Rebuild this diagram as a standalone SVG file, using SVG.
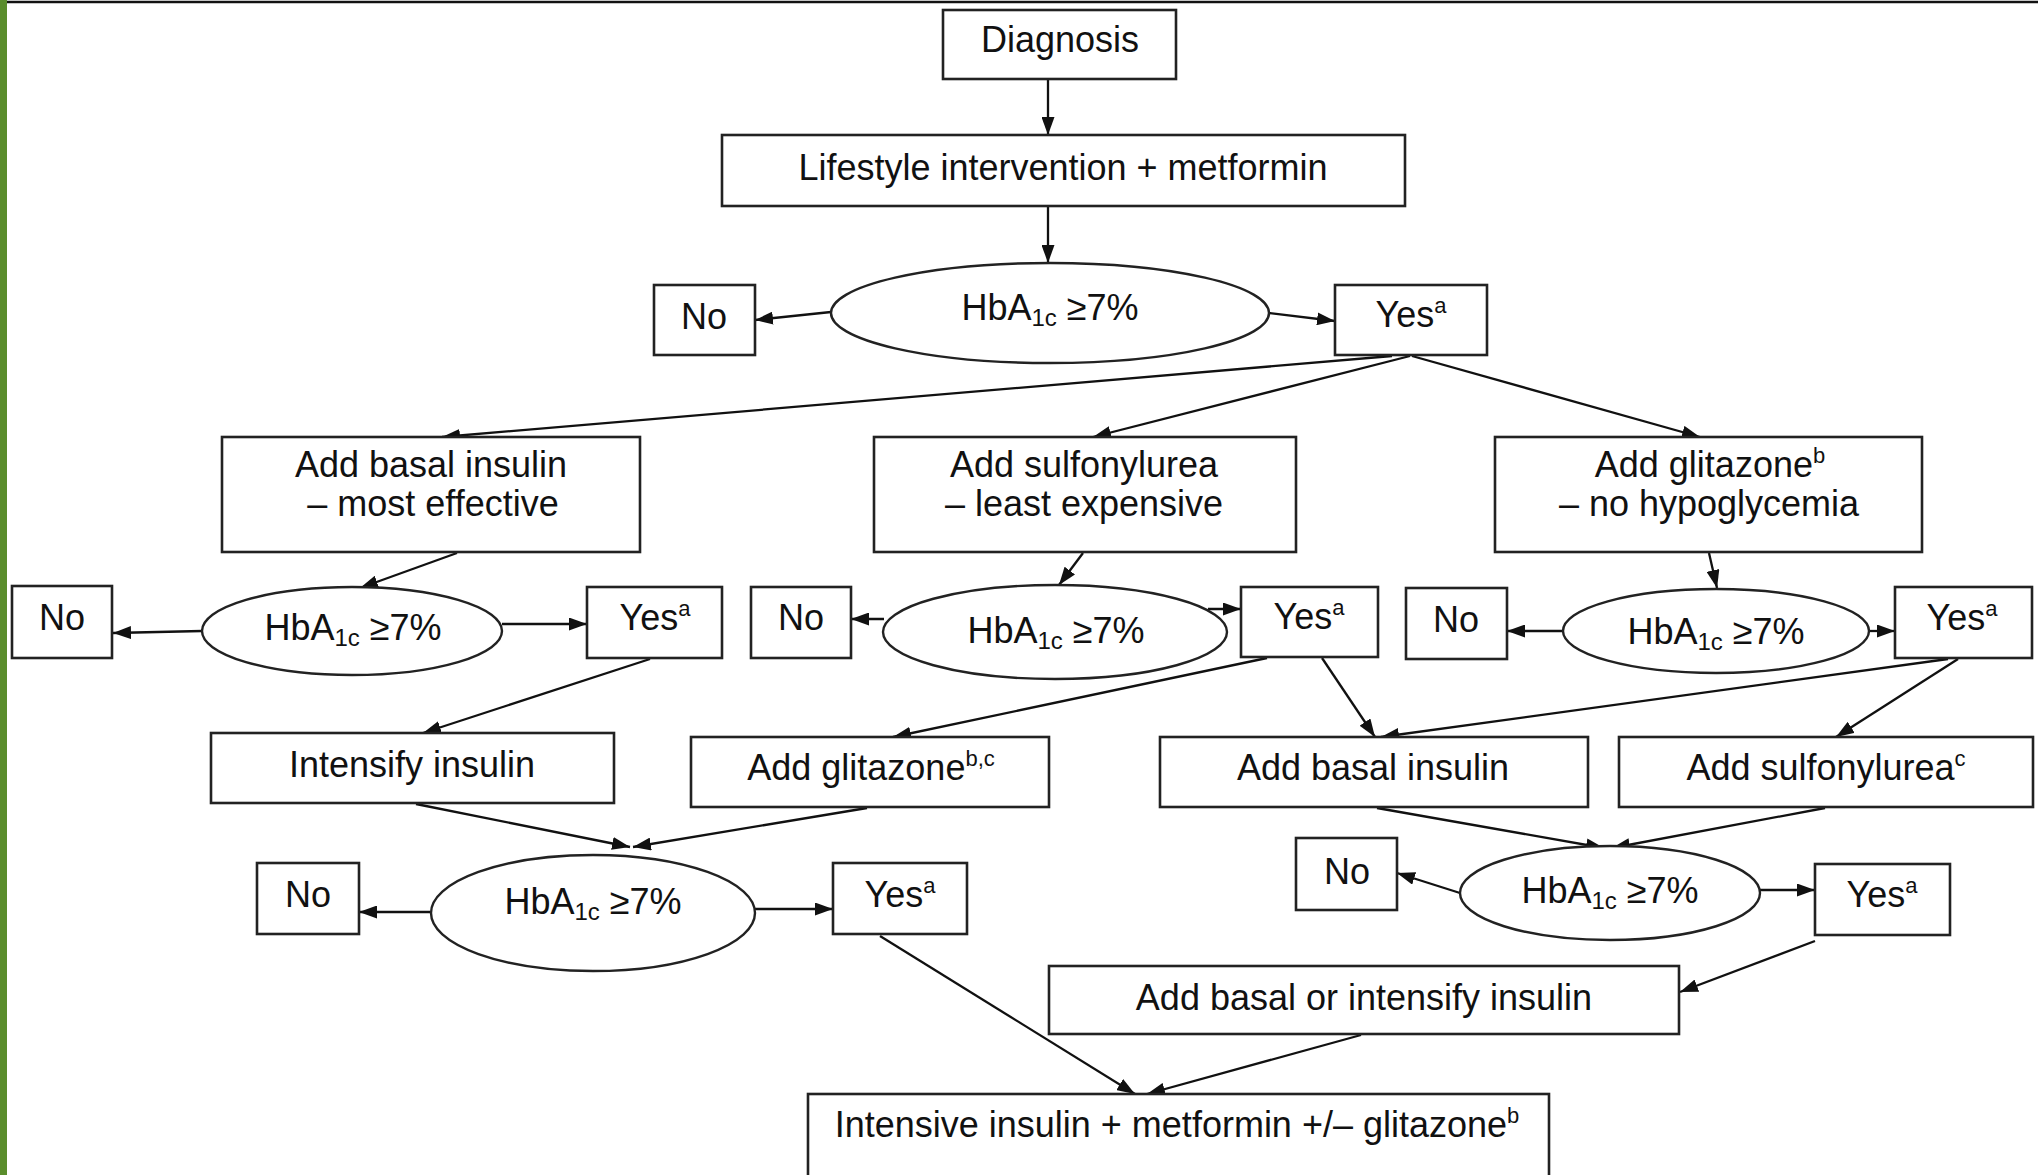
<svg xmlns="http://www.w3.org/2000/svg" width="2038" height="1175" viewBox="0 0 2038 1175">
<defs>
<marker id="ah" viewBox="0 0 18 13" refX="18" refY="6.5" markerWidth="18" markerHeight="13" markerUnits="userSpaceOnUse" orient="auto">
<path d="M0,0 L18,6.5 L0,13 z" fill="#111"/>
</marker>
<style>
.box{fill:#fff;stroke:#222;stroke-width:2.6}
.ell{fill:#fff;stroke:#222;stroke-width:2.4}
.t{font-family:"Liberation Sans",Arial,Helvetica,sans-serif;font-size:36px;fill:#111;text-anchor:middle}
.sup{font-size:22px}
.sub{font-size:24px}
.c line{stroke:#111;stroke-width:2.3;marker-end:url(#ah)}
</style>
</defs>
<rect x="0" y="0" width="2038" height="1175" fill="#fff"/>
<rect x="0" y="0" width="7" height="1175" fill="#5a8d2c"/>
<line x1="7" y1="2" x2="2038" y2="2" stroke="#111" stroke-width="2.5"/>

<g class="c" id="connectors">
<line x1="1048" y1="80" x2="1048" y2="135"/>
<line x1="1048" y1="207" x2="1048" y2="263"/>
<line x1="831" y1="312" x2="755" y2="320"/>
<line x1="1269" y1="313" x2="1335" y2="321"/>
<line x1="1392" y1="356" x2="442" y2="437"/>
<line x1="1410" y1="356" x2="1093" y2="437"/>
<line x1="1412" y1="356" x2="1700" y2="437"/>
<line x1="457" y1="553" x2="360" y2="588"/>
<line x1="202" y1="631" x2="113" y2="633"/>
<line x1="502" y1="624" x2="587" y2="624"/>
<line x1="1083" y1="553" x2="1059" y2="585"/>
<line x1="884" y1="619" x2="851" y2="619"/>
<line x1="1208" y1="609" x2="1241" y2="609"/>
<line x1="1709" y1="553" x2="1717" y2="588"/>
<line x1="1562" y1="631" x2="1507" y2="631"/>
<line x1="1868" y1="631" x2="1895" y2="631"/>
<line x1="650" y1="659" x2="423" y2="733"/>
<line x1="1267" y1="658" x2="893" y2="737"/>
<line x1="1322" y1="658" x2="1375" y2="737"/>
<line x1="1948" y1="659" x2="1381" y2="737"/>
<line x1="1958" y1="659" x2="1836" y2="737"/>
<line x1="416" y1="804" x2="630" y2="847"/>
<line x1="867" y1="808" x2="633" y2="847"/>
<line x1="430" y1="912" x2="359" y2="912"/>
<line x1="755" y1="909" x2="833" y2="909"/>
<line x1="880" y1="936" x2="1135" y2="1094"/>
<line x1="1377" y1="808" x2="1604" y2="848"/>
<line x1="1825" y1="808" x2="1612" y2="848"/>
<line x1="1460" y1="893" x2="1397" y2="873"/>
<line x1="1760" y1="890" x2="1815" y2="890"/>
<line x1="1815" y1="941" x2="1680" y2="992"/>
<line x1="1361" y1="1035" x2="1147" y2="1094"/>
</g>

<g id="diagnosis"><rect class="box" x="943" y="10" width="233" height="69"/><text class="t" x="1060" y="52">Diagnosis</text></g>
<g id="lifestyle"><rect class="box" x="722" y="135" width="683" height="71"/><text class="t" x="1063" y="180">Lifestyle intervention + metformin</text></g>
<g id="hba-1"><ellipse class="ell" cx="1050" cy="313" rx="219" ry="50"/><text class="t" x="1050" y="320">HbA<tspan class="sub" dy="6">1c</tspan><tspan dy="-6"> ≥7%</tspan></text></g>
<g id="no-1"><rect class="box" x="654" y="285" width="101" height="70"/><text class="t" x="704" y="329">No</text></g>
<g id="yes-1"><rect class="box" x="1335" y="285" width="152" height="70"/><text class="t" x="1411" y="327">Yes<tspan class="sup" dy="-14">a</tspan></text></g>

<g id="basal-1"><rect class="box" x="222" y="437" width="418" height="115"/><text class="t" x="431" y="477">Add basal insulin</text><text class="t" x="433" y="516">– most effective</text></g>
<g id="sulf-1"><rect class="box" x="874" y="437" width="422" height="115"/><text class="t" x="1084" y="477">Add sulfonylurea</text><text class="t" x="1084" y="516">– least expensive</text></g>
<g id="glit-1"><rect class="box" x="1495" y="437" width="427" height="115"/><text class="t" x="1710" y="477">Add glitazone<tspan class="sup" dy="-14">b</tspan></text><text class="t" x="1709" y="516">– no hypoglycemia</text></g>

<g id="no-2a"><rect class="box" x="12" y="586" width="100" height="72"/><text class="t" x="62" y="630">No</text></g>
<g id="hba-2a"><ellipse class="ell" cx="352" cy="631" rx="150" ry="44"/><text class="t" x="353" y="640">HbA<tspan class="sub" dy="6">1c</tspan><tspan dy="-6"> ≥7%</tspan></text></g>
<g id="yes-2a"><rect class="box" x="587" y="587" width="135" height="71"/><text class="t" x="655" y="630">Yes<tspan class="sup" dy="-14">a</tspan></text></g>
<g id="no-2b"><rect class="box" x="751" y="587" width="100" height="71"/><text class="t" x="801" y="630">No</text></g>
<g id="hba-2b"><ellipse class="ell" cx="1055" cy="632" rx="172" ry="47"/><text class="t" x="1056" y="643">HbA<tspan class="sub" dy="6">1c</tspan><tspan dy="-6"> ≥7%</tspan></text></g>
<g id="yes-2b"><rect class="box" x="1241" y="587" width="137" height="70"/><text class="t" x="1309" y="629">Yes<tspan class="sup" dy="-14">a</tspan></text></g>
<g id="no-2c"><rect class="box" x="1406" y="588" width="101" height="71"/><text class="t" x="1456" y="632">No</text></g>
<g id="hba-2c"><ellipse class="ell" cx="1716" cy="631" rx="153" ry="42"/><text class="t" x="1716" y="644">HbA<tspan class="sub" dy="6">1c</tspan><tspan dy="-6"> ≥7%</tspan></text></g>
<g id="yes-2c"><rect class="box" x="1895" y="587" width="137" height="71"/><text class="t" x="1962" y="630">Yes<tspan class="sup" dy="-14">a</tspan></text></g>

<g id="intensify"><rect class="box" x="211" y="733" width="403" height="70"/><text class="t" x="412" y="777">Intensify insulin</text></g>
<g id="glit-2"><rect class="box" x="691" y="737" width="358" height="70"/><text class="t" x="871" y="780">Add glitazone<tspan class="sup" dy="-14">b,c</tspan></text></g>
<g id="basal-2"><rect class="box" x="1160" y="737" width="428" height="70"/><text class="t" x="1373" y="780">Add basal insulin</text></g>
<g id="sulf-2"><rect class="box" x="1619" y="737" width="414" height="70"/><text class="t" x="1826" y="780">Add sulfonylurea<tspan class="sup" dy="-14">c</tspan></text></g>

<g id="no-3a"><rect class="box" x="257" y="863" width="102" height="71"/><text class="t" x="308" y="907">No</text></g>
<g id="hba-3a"><ellipse class="ell" cx="593" cy="913" rx="162" ry="58"/><text class="t" x="593" y="914">HbA<tspan class="sub" dy="6">1c</tspan><tspan dy="-6"> ≥7%</tspan></text></g>
<g id="yes-3a"><rect class="box" x="833" y="863" width="134" height="71"/><text class="t" x="900" y="907">Yes<tspan class="sup" dy="-14">a</tspan></text></g>
<g id="no-3b"><rect class="box" x="1296" y="838" width="101" height="72"/><text class="t" x="1347" y="884">No</text></g>
<g id="hba-3b"><ellipse class="ell" cx="1610" cy="893" rx="150" ry="47"/><text class="t" x="1610" y="903">HbA<tspan class="sub" dy="6">1c</tspan><tspan dy="-6"> ≥7%</tspan></text></g>
<g id="yes-3b"><rect class="box" x="1815" y="864" width="135" height="71"/><text class="t" x="1882" y="907">Yes<tspan class="sup" dy="-14">a</tspan></text></g>

<g id="basal-or-intensify"><rect class="box" x="1049" y="966" width="630" height="68"/><text class="t" x="1364" y="1010">Add basal or intensify insulin</text></g>
<g id="intensive"><rect class="box" x="808" y="1094" width="741" height="120"/><text class="t" x="1177" y="1137">Intensive insulin + metformin +/– glitazone<tspan class="sup" dy="-14">b</tspan></text></g>
</svg>
